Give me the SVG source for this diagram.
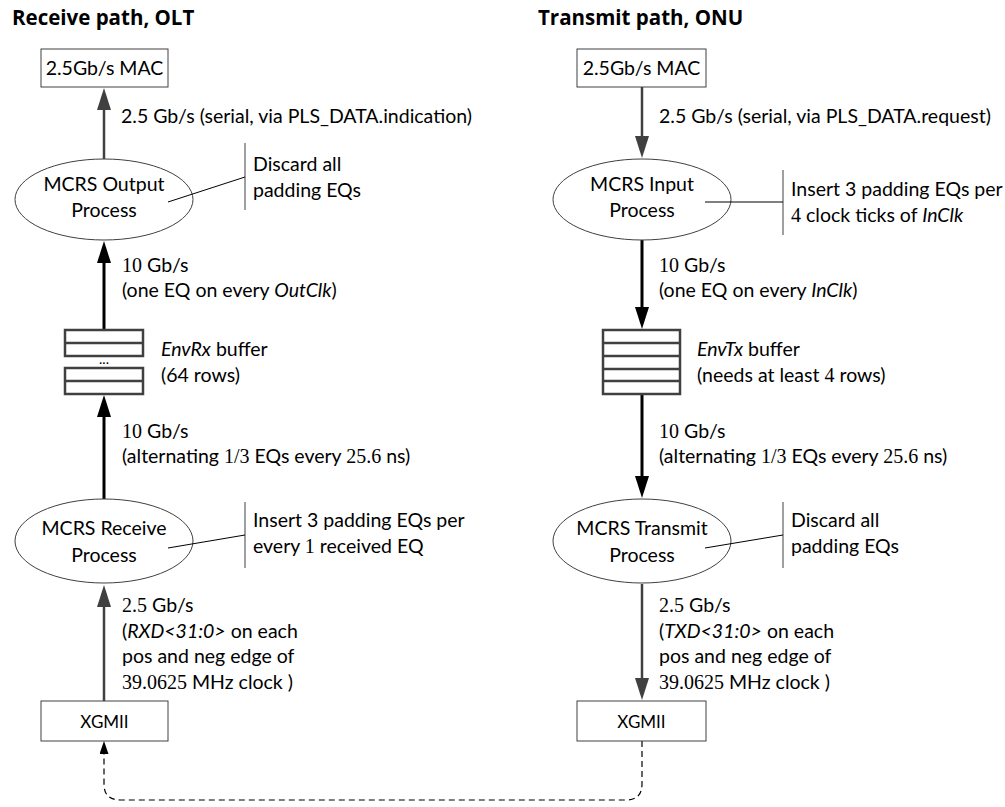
<svg xmlns="http://www.w3.org/2000/svg" width="1005" height="807" viewBox="0 0 1005 807">
<defs>
<style>
text{font-family:Lato,"Open Sans","DejaVu Sans",sans-serif;font-size:19.5px;fill:#000}
.t{font-family:"Open Sans",Lato,sans-serif;font-weight:bold;font-size:20.5px}
.c{text-anchor:middle}
.s{font-family:"Liberation Serif","Times New Roman",serif;font-size:20px}
.i{font-style:italic}
.box{fill:#fff;stroke:#404040;stroke-width:1}
.ell{fill:#fff;stroke:#404040;stroke-width:1}
.buf{fill:#fff;stroke:#404040;stroke-width:2.5}
.gray{stroke:#404040;stroke-width:2.5;fill:none}
.blk{stroke:#000;stroke-width:3;fill:none}
.note{stroke:#404040;stroke-width:1;fill:none}
.lead{stroke:#000;stroke-width:1;fill:none}
.dash{stroke:#000;stroke-width:1.2;fill:none;stroke-dasharray:6,4}
</style>
<marker id="ag" markerUnits="userSpaceOnUse" markerWidth="22" markerHeight="14" refX="1" refY="7" orient="auto"><path d="M0,0 L22,7 L0,14 z" fill="#404040"/></marker>
<marker id="ab" markerUnits="userSpaceOnUse" markerWidth="22" markerHeight="14" refX="1" refY="7" orient="auto"><path d="M0,0 L22,7 L0,14 z" fill="#000"/></marker>
<marker id="ad" markerUnits="userSpaceOnUse" markerWidth="13" markerHeight="9" refX="0" refY="4.5" orient="auto"><path d="M0,0 L13,4.5 L0,9 z" fill="#000"/></marker>
</defs>

<text class="t" x="12" y="25">Receive path, OLT</text>
<text class="t" x="538" y="25">Transmit path, ONU</text>

<g id="connectors">
<line class="gray" x1="104" y1="159" x2="104" y2="109" marker-end="url(#ag)"/>
<line class="blk" x1="104" y1="330" x2="104" y2="262" marker-end="url(#ab)"/>
<line class="blk" x1="104" y1="499" x2="104" y2="416" marker-end="url(#ab)"/>
<line class="gray" x1="104" y1="701" x2="104" y2="606" marker-end="url(#ag)"/>
<line class="gray" x1="642" y1="87" x2="642" y2="137" marker-end="url(#ag)"/>
<line class="blk" x1="642" y1="240" x2="642" y2="308" marker-end="url(#ab)"/>
<line class="blk" x1="642" y1="394" x2="642" y2="477" marker-end="url(#ab)"/>
<line class="gray" x1="642" y1="584" x2="642" y2="679" marker-end="url(#ag)"/>
<path class="dash" d="M642,741 V784 Q642,800 626,800 H120 Q104,800 104,784 V754" marker-end="url(#ad)"/>
</g>

<g id="mac-rx">
<rect class="box" x="41" y="49" width="127" height="38"/>
<text class="c" x="104.5" y="75">2.5Gb/s MAC</text>
</g>
<g id="mac-tx">
<rect class="box" x="577" y="49" width="129" height="38"/>
<text class="c" x="641.5" y="75">2.5Gb/s MAC</text>
</g>

<g id="label-rx-top"><text x="121" y="123">2.5 Gb/s (serial, via PLS_DATA.indication)</text></g>
<g id="label-tx-top"><text x="659" y="123">2.5 Gb/s (serial, via PLS_DATA.request)</text></g>

<g id="mcrs-output">
<ellipse class="ell" cx="104" cy="199.5" rx="89" ry="40.5"/>
<text class="c" x="104" y="191">MCRS Output</text>
<text class="c" x="104" y="217">Process</text>
</g>
<g id="note-output">
<line class="note" x1="245" y1="143" x2="245" y2="210"/>
<line class="lead" x1="168" y1="202" x2="245" y2="177"/>
<text x="253" y="171">Discard all</text>
<text x="253" y="197">padding EQs</text>
</g>

<g id="mcrs-input">
<ellipse class="ell" cx="642" cy="199.5" rx="89" ry="40.5"/>
<text class="c" x="642" y="191">MCRS Input</text>
<text class="c" x="642" y="217">Process</text>
</g>
<g id="note-input">
<line class="note" x1="783" y1="170" x2="783" y2="235"/>
<line class="lead" x1="705" y1="202" x2="783" y2="202"/>
<text x="791" y="196">Insert 3 padding EQs per</text>
<text x="791" y="222"><tspan class="s">4</tspan> clock ticks of <tspan class="i">InClk</tspan></text>
</g>

<g id="label-rx-10a">
<text x="122" y="272"><tspan class="s">10</tspan> Gb/s</text>
<text x="122" y="297">(one EQ on every <tspan class="i">OutClk</tspan>)</text>
</g>
<g id="label-tx-10a">
<text x="659" y="272"><tspan class="s">10</tspan> Gb/s</text>
<text x="659" y="297">(one EQ on every <tspan class="i">InClk</tspan>)</text>
</g>

<g id="envrx">
<rect class="buf" x="65" y="330" width="78" height="26"/>
<line class="buf" x1="65" y1="343" x2="143" y2="343"/>
<text class="c" x="104" y="364" style="font-size:14px">...</text>
<rect class="buf" x="65" y="368" width="78" height="26"/>
<line class="buf" x1="65" y1="381" x2="143" y2="381"/>
<text x="161" y="356"><tspan class="i">EnvRx</tspan> buffer</text>
<text x="161" y="382">(64 rows)</text>
</g>
<g id="envtx">
<rect class="buf" x="603" y="330" width="77" height="64"/>
<line class="buf" x1="603" y1="343" x2="680" y2="343"/>
<line class="buf" x1="603" y1="356" x2="680" y2="356"/>
<line class="buf" x1="603" y1="369" x2="680" y2="369"/>
<line class="buf" x1="603" y1="381" x2="680" y2="381"/>
<text x="697" y="356"><tspan class="i">EnvTx</tspan> buffer</text>
<text x="697" y="382">(needs at least <tspan class="s">4</tspan> rows)</text>
</g>

<g id="label-rx-10b">
<text x="122" y="438"><tspan class="s">10</tspan> Gb/s</text>
<text x="122" y="463">(alternating <tspan class="s">1/3</tspan> EQs every <tspan class="s">25.6</tspan> ns)</text>
</g>
<g id="label-tx-10b">
<text x="659" y="438"><tspan class="s">10</tspan> Gb/s</text>
<text x="659" y="463">(alternating <tspan class="s">1/3</tspan> EQs every <tspan class="s">25.6</tspan> ns)</text>
</g>

<g id="mcrs-receive">
<ellipse class="ell" cx="104" cy="541" rx="89" ry="42"/>
<text class="c" x="104" y="535">MCRS Receive</text>
<text class="c" x="104" y="562">Process</text>
</g>
<g id="note-receive">
<line class="note" x1="245" y1="502" x2="245" y2="568"/>
<line class="lead" x1="168" y1="548" x2="245" y2="535"/>
<text x="253" y="527">Insert 3 padding EQs per</text>
<text x="253" y="553">every <tspan class="s">1</tspan> received EQ</text>
</g>

<g id="mcrs-transmit">
<ellipse class="ell" cx="642" cy="541" rx="89" ry="42"/>
<text class="c" x="642" y="535">MCRS Transmit</text>
<text class="c" x="642" y="562">Process</text>
</g>
<g id="note-transmit">
<line class="note" x1="783" y1="502" x2="783" y2="568"/>
<line class="lead" x1="705" y1="548" x2="783" y2="535"/>
<text x="791" y="527">Discard all</text>
<text x="791" y="553">padding EQs</text>
</g>

<g id="label-rx-low">
<text x="122" y="612"><tspan class="s">2.5</tspan> Gb/s</text>
<text x="122" y="638">(<tspan class="i">RXD&lt;31:0&gt;</tspan> on each</text>
<text x="122" y="663">pos and neg edge of</text>
<text x="122" y="689"><tspan class="s">39.0625</tspan> MHz clock )</text>
</g>
<g id="label-tx-low">
<text x="659" y="612"><tspan class="s">2.5</tspan> Gb/s</text>
<text x="659" y="638">(<tspan class="i">TXD&lt;31:0&gt;</tspan> on each</text>
<text x="659" y="663">pos and neg edge of</text>
<text x="659" y="689"><tspan class="s">39.0625</tspan> MHz clock )</text>
</g>

<g id="xgmii-rx">
<rect class="box" x="41" y="701" width="127" height="40"/>
<text class="c" x="104.5" y="728" style="font-size:17px">XGMII</text>
</g>
<g id="xgmii-tx">
<rect class="box" x="577" y="701" width="129" height="40"/>
<text class="c" x="641.5" y="728" style="font-size:17px">XGMII</text>
</g>
</svg>
